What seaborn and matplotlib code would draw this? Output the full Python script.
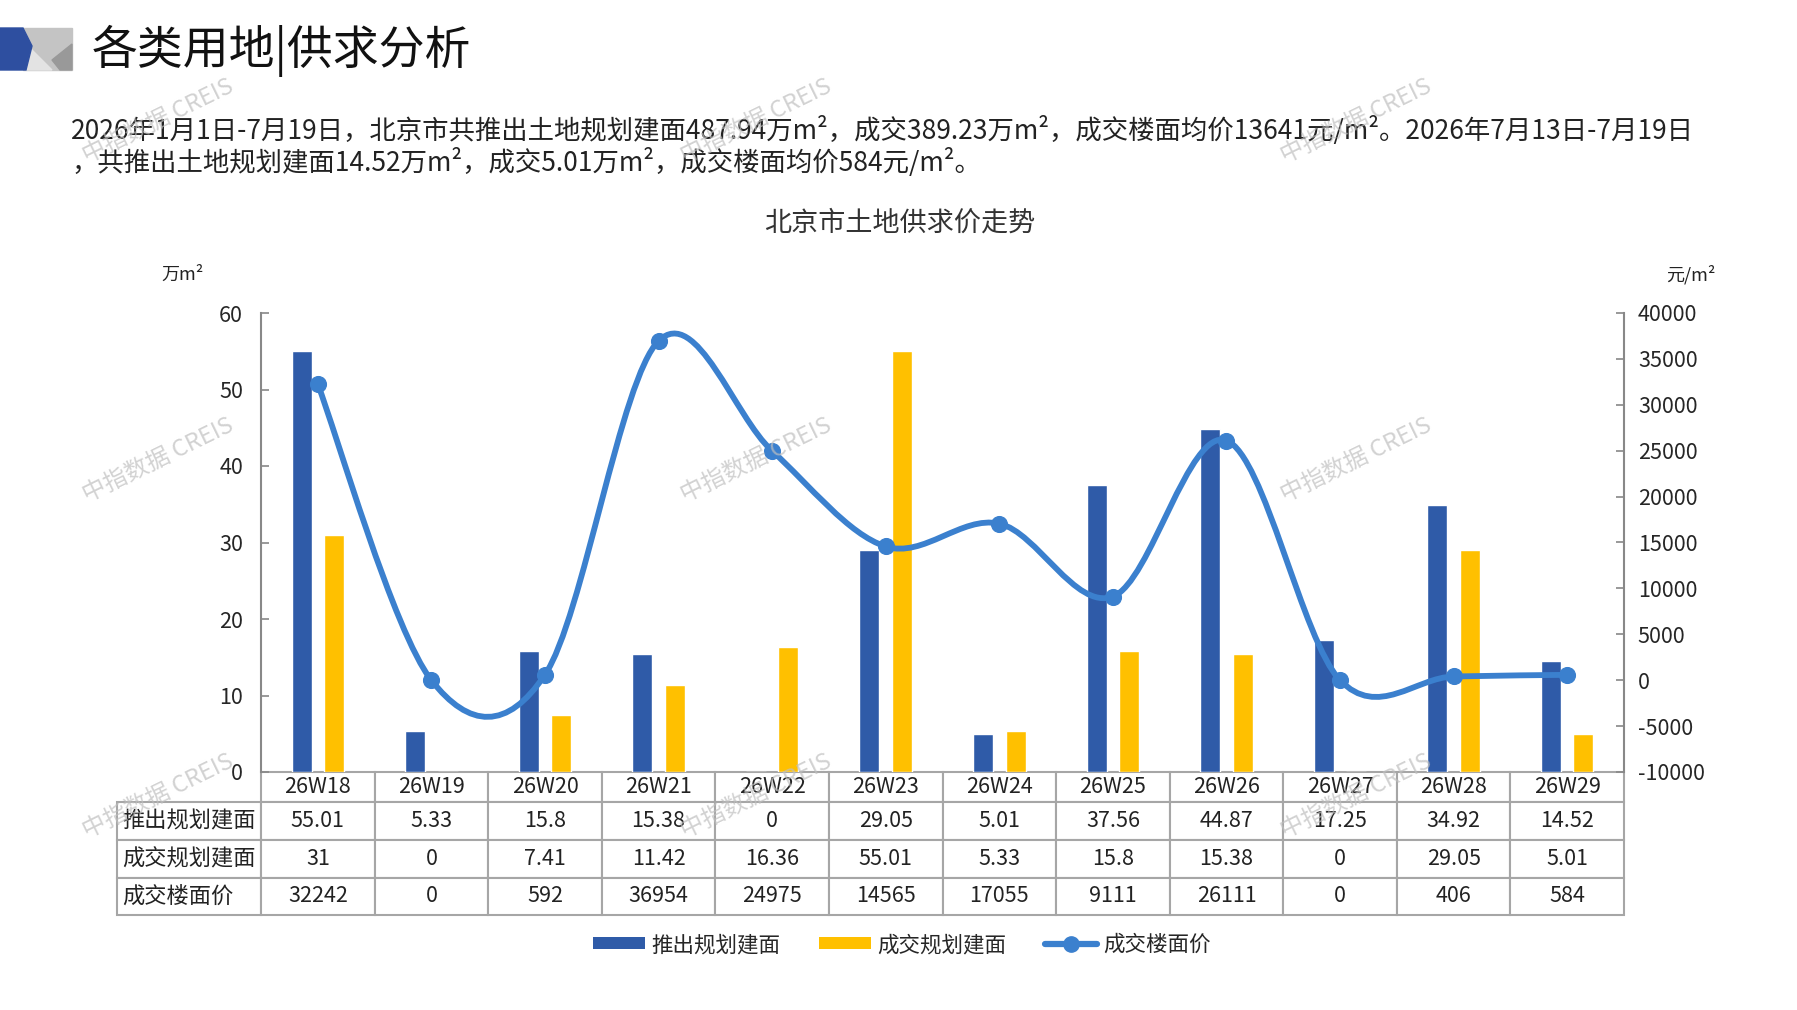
import numpy as np
import pandas as pd
import seaborn as sns
import matplotlib.pyplot as plt
from matplotlib.path import Path
from matplotlib.patches import PathPatch, Polygon, Patch
from matplotlib.lines import Line2D

sns.set_style('white')
plt.rcParams['font.family'] = ['Noto Sans CJK SC', 'DejaVu Sans']
plt.rcParams['axes.unicode_minus'] = False

# data
weeks = ['26W18', '26W19', '26W20', '26W21', '26W22', '26W23',
         '26W24', '26W25', '26W26', '26W27', '26W28', '26W29']
supply = [55.01, 5.33, 15.8, 15.38, 0, 29.05, 5.01, 37.56, 44.87, 17.25, 34.92, 14.52]
deal = [31, 0, 7.41, 11.42, 16.36, 55.01, 5.33, 15.8, 15.38, 0, 29.05, 5.01]
price = [32242, 0, 592, 36954, 24975, 14565, 17055, 9111, 26111, 0, 406, 584]
series_names = ['推出规划建面', '成交规划建面', '成交楼面价']

blue = '#2F5BA8'
yellow = '#FFC000'
line_c = '#3B80CE'
grid_c = '#A6A6A6'

W, H = 1797, 1010
fig = plt.figure(figsize=(W / 100, H / 100), dpi=100)

def fx(px):
    return px / W

def fy(py):
    return 1 - py / H

# header logo
fig.patches.append(Polygon([[fx(23), fy(28)], [fx(72), fy(28)], [fx(72), fy(70)], [fx(23), fy(70)]],
                           closed=True, transform=fig.transFigure, color='#C4C4C4', zorder=1))
fig.patches.append(Polygon([[fx(30), fy(48)], [fx(52), fy(70)], [fx(26), fy(70)]],
                           closed=True, transform=fig.transFigure, color='#E3E3E3', zorder=2))
fig.patches.append(Polygon([[fx(72), fy(44)], [fx(52), fy(60)], [fx(60), fy(70)], [fx(72), fy(70)]],
                           closed=True, transform=fig.transFigure, color='#999999', zorder=2))
fig.patches.append(Polygon([[0, fy(28)], [fx(23), fy(28)], [fx(32), fy(46)], [fx(26), fy(70)], [0, fy(70)]],
                           closed=True, transform=fig.transFigure, color='#2E4FA0', zorder=3))

fig.text(fx(92), fy(51), '各类用地|供求分析', fontsize=33, va='center', ha='left', color='#111111')
fig.text(fx(71), fy(130), '2026年1月1日-7月19日，北京市共推出土地规划建面487.94万m²，成交389.23万m²，'
         '成交楼面均价13641元/m²。2026年7月13日-7月19日',
         fontsize=19, va='center', ha='left', color='#222222')
fig.text(fx(71), fy(162), '，共推出土地规划建面14.52万m²，成交5.01万m²，成交楼面均价584元/m²。',
         fontsize=19, va='center', ha='left', color='#222222')
fig.text(fx(900), fy(223), '北京市土地供求价走势', fontsize=19.5, va='center', ha='center', color='#333333')
fig.text(fx(183), fy(275), '万m²', fontsize=13, va='center', ha='center', color='#222222')
fig.text(fx(1716), fy(275), '元/m²', fontsize=13, va='center', ha='right', color='#222222')

# axes
L, R, T, B = 261, 1624, 313, 772
ax = fig.add_axes([fx(L), fy(B), fx(R) - fx(L), fy(T) - fy(B)])
df = pd.DataFrame({'week': weeks * 2,
                   'series': [series_names[0]] * 12 + [series_names[1]] * 12,
                   'value': supply + deal})
sns.barplot(data=df, x='week', y='value', hue='series', palette=[blue, yellow],
            width=0.572, gap=0.385, legend=False, ax=ax, saturation=1)
ax.set_ylim(0, 60)
ax.set_yticks(range(0, 61, 10))
ax.set_xlabel('')
ax.set_ylabel('')
ax.tick_params(axis='x', bottom=False, labelbottom=False)
ax.tick_params(axis='y', direction='in', length=6, width=1.2, color='#888888',
               labelsize=15.5, pad=13, left=True)
for s in ['top', 'right', 'bottom']:
    ax.spines[s].set_visible(False)
ax.spines['left'].set_color('#888888')
ax.spines['left'].set_linewidth(1.5)

ax2 = ax.twinx()
ax2.set_ylim(-10000, 40000)
ax2.set_yticks(range(-10000, 40001, 5000))
ax2.tick_params(axis='y', direction='in', length=6, width=1.2, color='#888888',
                labelsize=15.5, pad=10, right=True)
for s in ['top', 'left', 'bottom']:
    ax2.spines[s].set_visible(False)
ax2.spines['right'].set_color('#888888')
ax2.spines['right'].set_linewidth(1.5)
ax2.grid(False)

# smoothed price line (bezier through the data points)
xs = np.arange(len(price))
pts = np.column_stack([xs, price]).astype(float)
verts = [pts[0]]
codes = [Path.MOVETO]
n = len(pts)
for i in range(n - 1):
    p_prev = pts[max(i - 1, 0)]
    p_next2 = pts[min(i + 2, n - 1)]
    c1 = pts[i] + (pts[i + 1] - p_prev) / 6
    c2 = pts[i + 1] - (p_next2 - pts[i]) / 6
    verts += [c1, c2, pts[i + 1]]
    codes += [Path.CURVE4] * 3
ax2.add_patch(PathPatch(Path(verts, codes), facecolor='none', edgecolor=line_c,
                        linewidth=4.2, capstyle='round', zorder=3))
sns.scatterplot(x=xs, y=price, ax=ax2, color=line_c, s=130, edgecolor=line_c, zorder=4)
ax.set_xlim(-0.5, len(weeks) - 0.5)
ax2.set_xlim(-0.5, len(weeks) - 0.5)

# data table below the axes, row labels hang off to the left
pw, ph = R - L, B - T
row_h = [30, 38, 38, 37]
cell_text = [[f'{v:g}' for v in supply], [f'{v:g}' for v in deal], [f'{v:g}' for v in price]]
tbl = ax.table(cellText=cell_text, rowLabels=series_names, colLabels=weeks,
               cellLoc='center', rowLoc='left',
               bbox=[0, -sum(row_h) / ph, 1, sum(row_h) / ph])
tbl.auto_set_font_size(False)
for (r, c), cell in tbl.get_celld().items():
    cell.set_edgecolor(grid_c)
    cell.set_linewidth(1.5)
    cell.set_height(row_h[r] / ph)
    cell.set_width((L - 115) / pw if c == -1 else 1 / 12)
    cell.get_text().set_fontsize(16 if c == -1 else 15.5)
    cell.get_text().set_color('#222222')
    if c == -1:
        cell.PAD = 0.04

# legend
handles = [Patch(facecolor=blue, edgecolor='none'),
           Patch(facecolor=yellow, edgecolor='none'),
           Line2D([0], [0], color=line_c, lw=4.5, marker='o', markersize=11)]
fig.legend(handles, series_names, loc='center', bbox_to_anchor=(fx(902), fy(945)),
           ncol=3, frameon=False, fontsize=15.5, handlelength=2.4, handleheight=0.5,
           handletextpad=0.3, columnspacing=1.8)

# watermarks
for wx in [158, 756, 1356]:
    for wy in [121, 460, 796]:
        fig.text(fx(wx), fy(wy), '中指数据 CREIS', fontsize=17, rotation=26,
                 color='#BFBFBF', alpha=0.7, ha='center', va='center', zorder=10)

fig.savefig('out.png', dpi=100)
